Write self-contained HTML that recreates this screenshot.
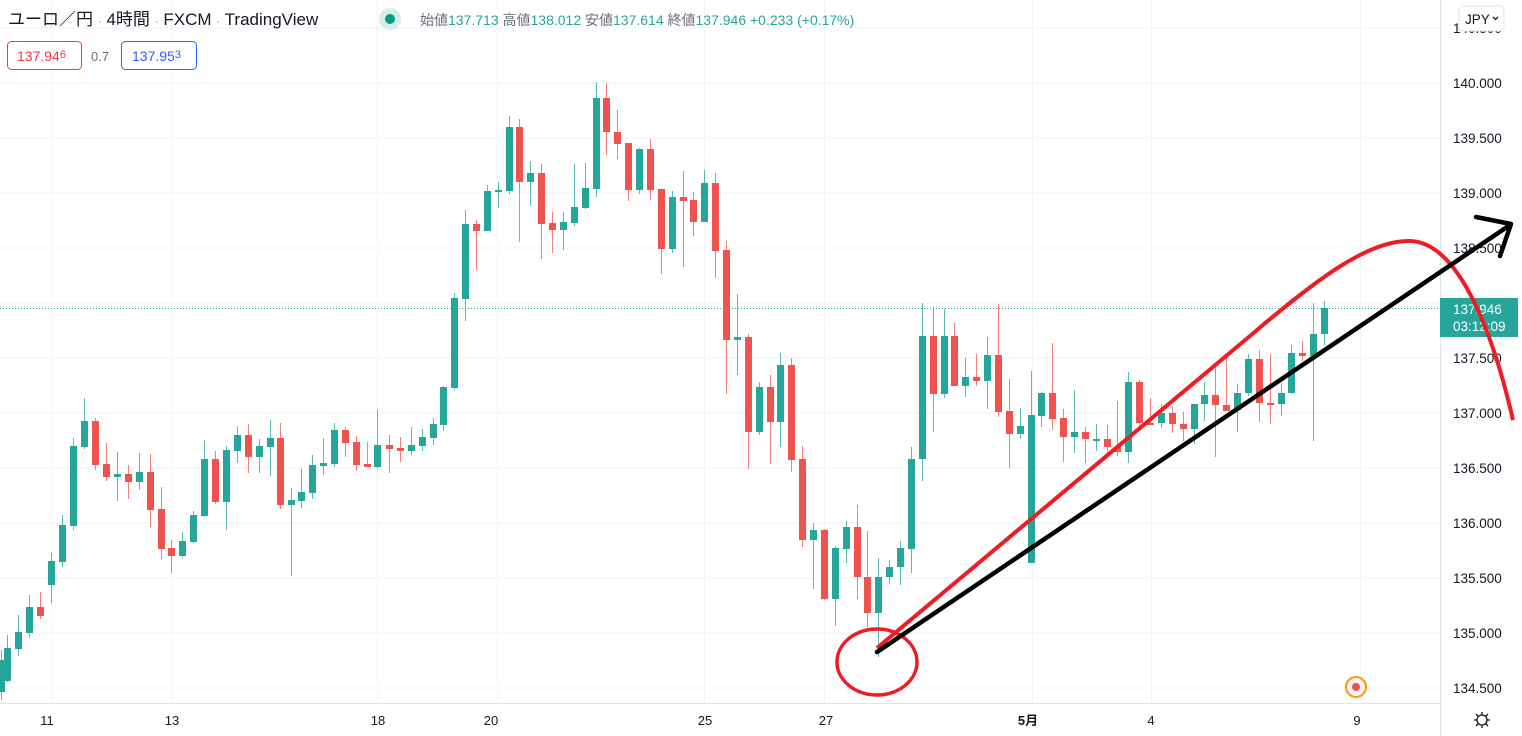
<!DOCTYPE html>
<html><head><meta charset="utf-8">
<style>
html,body{margin:0;padding:0;background:#fff;}
body{width:1522px;height:736px;overflow:hidden;position:relative;font-family:"Liberation Sans","Noto Sans CJK JP",sans-serif;}
svg{position:absolute;left:0;top:0;}
</style></head><body>
<svg id="s" width="1522" height="736" xmlns="http://www.w3.org/2000/svg" font-family="Liberation Sans, Noto Sans CJK JP, sans-serif">
<g stroke="#f0f3fa" stroke-width="1">
<line x1="0" y1="28" x2="1440" y2="28"/><line x1="0" y1="83" x2="1440" y2="83"/><line x1="0" y1="138" x2="1440" y2="138"/><line x1="0" y1="193" x2="1440" y2="193"/><line x1="0" y1="248" x2="1440" y2="248"/><line x1="0" y1="303" x2="1440" y2="303"/><line x1="0" y1="358" x2="1440" y2="358"/><line x1="0" y1="413" x2="1440" y2="413"/><line x1="0" y1="468" x2="1440" y2="468"/><line x1="0" y1="523" x2="1440" y2="523"/><line x1="0" y1="578" x2="1440" y2="578"/><line x1="0" y1="633" x2="1440" y2="633"/><line x1="0" y1="688" x2="1440" y2="688"/>
<line x1="51.5" y1="0" x2="51.5" y2="704"/><line x1="171.5" y1="0" x2="171.5" y2="704"/><line x1="377.5" y1="0" x2="377.5" y2="704"/><line x1="497.5" y1="0" x2="497.5" y2="704"/><line x1="704.5" y1="0" x2="704.5" y2="704"/><line x1="824.5" y1="0" x2="824.5" y2="704"/><line x1="1032.5" y1="0" x2="1032.5" y2="704"/><line x1="1151.5" y1="0" x2="1151.5" y2="704"/><line x1="1360.5" y1="0" x2="1360.5" y2="704"/>
</g>
<line x1="0" y1="308.5" x2="1440" y2="308.5" stroke="#26a69a" stroke-width="1" stroke-dasharray="1,2"/>
<g id="c"></g>
<!-- axes -->
<line x1="1440.5" y1="0" x2="1440.5" y2="736" stroke="#e0e3eb"/>
<line x1="0" y1="703.5" x2="1440" y2="703.5" stroke="#e0e3eb"/>
<g font-size="13.5" fill="#131722">
<text x="1453" y="33">140.500</text>
<text x="1453" y="88">140.000</text><text x="1453" y="143">139.500</text><text x="1453" y="198">139.000</text><text x="1453" y="253">138.500</text><text x="1453" y="363">137.500</text><text x="1453" y="418">137.000</text><text x="1453" y="473">136.500</text><text x="1453" y="528">136.000</text><text x="1453" y="583">135.500</text><text x="1453" y="638">135.000</text><text x="1453" y="693">134.500</text>
</g>
<rect x="1459" y="6" width="45" height="25" rx="4" fill="#fff" stroke="#e0e3eb"/>
<text x="1465" y="24" font-size="13.5" fill="#131722">JPY</text>
<path d="M1493 17 l2.5 2.5 l2.5 -2.5" stroke="#131722" stroke-width="1.3" fill="none"/>
<rect x="1440" y="298" width="78" height="39" fill="#26a69a"/>
<text x="1453" y="314" font-size="13.5" fill="#fff">137.946</text>
<text x="1453" y="331" font-size="13.5" fill="#fff">03:12:09</text>
<g font-size="13" fill="#131722" text-anchor="middle">
<text x="47" y="725">11</text><text x="172" y="725">13</text><text x="378" y="725">18</text><text x="491" y="725">20</text><text x="705" y="725">25</text><text x="826" y="725">27</text><text x="1028" y="725" font-weight="bold">5月</text><text x="1151" y="725">4</text><text x="1357" y="725">9</text>
</g>
<g stroke="#131722" stroke-width="1.3" fill="none"><circle cx="1482" cy="720" r="5"/><path d="M1482 712v3M1482 725v3M1474 720h3M1487 720h3M1476 714l2 2M1486 724l2 2M1488 714l-2 2M1478 724l-2 2"/></g>
<circle cx="1356" cy="687" r="10" fill="#f0f3fa" stroke="#ff9800" stroke-width="2"/>
<circle cx="1356" cy="687" r="4" fill="#f05050"/>
<!-- header -->
<text x="8" y="25" font-size="17" fill="#131722">ユーロ／円 <tspan fill="#9598a1" font-size="12">·</tspan> 4時間 <tspan fill="#9598a1" font-size="12">·</tspan> FXCM <tspan fill="#9598a1" font-size="12">·</tspan> TradingView</text>
<circle cx="390" cy="19" r="11" fill="#d5eeea"/><circle cx="390" cy="19" r="5" fill="#089981"/>
<text x="420" y="25" font-size="14" fill="#6a6d78">始値<tspan fill="#26a69a">137.713</tspan> 高値<tspan fill="#26a69a">138.012</tspan> 安値<tspan fill="#26a69a">137.614</tspan> 終値<tspan fill="#26a69a">137.946</tspan> <tspan fill="#26a69a">+0.233 (+0.17%)</tspan></text>
<rect x="7.5" y="41.5" width="74" height="28" rx="4" fill="#fff" stroke="#f23645"/>
<text x="17" y="61" font-size="14" fill="#f23645">137.94<tspan font-size="11" dy="-3">6</tspan></text>
<text x="91" y="61" font-size="13" fill="#6a6d78">0.7</text>
<rect x="121.5" y="41.5" width="75" height="28" rx="4" fill="#fff" stroke="#2962ff"/>
<text x="132" y="61" font-size="14" fill="#2962ff">137.95<tspan font-size="11" dy="-3">3</tspan></text>
<!-- drawings -->
<ellipse cx="877" cy="662" rx="40" ry="33" fill="none" stroke="#ee1c25" stroke-width="3.5"/>
<path d="M877 648 L1250 336 C1320 276 1370 240 1410 241 C1455 242 1490 320 1513 420" fill="none" stroke="#ee1c25" stroke-width="4"/>
<path d="M877 652 L1510 225 M1476 217 L1511 224 L1500 256" fill="none" stroke="#000" stroke-width="4.5" stroke-linecap="round" stroke-linejoin="round"/>
</svg>
<script>
var d=[
[1,660,692,650,700,1],[7,648,681,635,682,1],[18,632,649,615,656,1],[29,607,633,595,638,1],[40,607,616,592,619,0],[51,561,585,553,603,1],[62,525,562,515,567,1],[73,446,526,438,530,1],[84,421,447,398,449,1],[95,421,465,418,470,0],[106,464,477,443,481,0],[117,474,477,452,501,1],[128,474,482,465,499,0],[139,472,482,453,490,1],[150,472,510,454,527,0],[161,509,549,487,559,0],[171,548,556,540,573,0],[182,541,556,532,558,1],[193,515,542,511,543,1],[204,459,516,440,517,1],[215,459,502,451,504,0],[226,450,502,446,530,1],[237,435,451,426,463,1],[248,435,457,424,473,0],[259,446,457,439,473,1],[270,438,447,420,476,1],[280,438,505,423,509,0],[291,500,505,488,576,1],
[301,492,501,469,508,1],[312,465,493,455,499,1],[323,463,466,438,475,1],[334,430,464,423,467,1],[345,430,443,427,457,0],[356,442,465,436,471,0],[367,464,467,442,467,0],[377,445,467,410,468,1],[389,445,449,435,473,0],[400,448,451,437,462,0],[411,445,451,427,455,1],[422,437,446,429,451,1],[433,424,438,418,445,1],[443,387,425,386,431,1],[454,298,388,293,390,1],[465,224,299,210,321,1],[476,224,231,220,270,0],[487,191,231,185,231,1],[498,190,192,182,208,1],[509,127,191,116,194,1],[519,127,182,119,242,0],[530,173,182,161,206,1],[541,173,224,164,259,0],[552,223,230,212,253,0],[563,222,230,212,250,1],
[574,207,223,164,226,1],[585,188,208,163,209,1],[596,98,189,82,197,1],[606,98,132,83,155,0],[617,132,144,110,159,0],[628,143,190,143,201,0],[639,149,190,148,194,1],[650,149,190,139,200,0],[661,189,249,189,274,0],[672,197,249,191,253,1],[683,197,201,171,267,0],[693,200,222,192,236,0],[704,183,222,170,222,1],[715,183,251,173,278,0],[726,250,340,241,394,0],[737,337,340,294,375,1],[748,337,432,334,469,0],[759,387,432,382,435,1],[770,387,422,375,464,0],[780,365,422,353,447,1],[791,365,460,358,472,0],[802,459,540,446,547,0],[813,530,540,523,589,1],[824,530,599,529,600,0],[835,548,599,546,626,1],[846,527,549,521,563,1],[857,527,577,505,599,0],
[867,577,613,531,627,0],[878,577,613,558,657,1],[889,567,577,560,584,1],[900,548,567,541,585,1],[911,459,549,447,573,1],[922,336,459,303,481,1],[933,336,394,307,432,0],[944,336,394,309,398,1],[954,336,386,323,386,0],[965,377,386,358,397,1],[976,377,381,354,386,0],[987,355,381,337,409,1],[998,355,412,304,417,0],[1009,411,434,379,468,0],[1020,426,434,408,439,1],[1031,415,563,371,563,1],[1041,393,416,392,427,1],[1052,393,419,343,430,0],[1063,418,437,409,462,0],[1074,432,437,390,453,1],[1085,432,439,427,463,0],
[1096,439,440,424,451,1],[1107,439,447,425,453,0],[1117,447,452,401,456,0],[1128,382,452,372,463,1],[1139,382,423,380,427,0],[1150,423,424,398,423,0],[1161,413,423,404,428,1],[1172,413,424,406,433,0],[1183,424,429,412,441,0],[1194,404,429,404,444,1],[1204,395,404,382,421,1],[1215,395,405,366,457,0],[1226,405,411,354,411,0],[1237,393,410,384,432,1],[1248,359,393,354,396,1],[1259,359,403,350,422,0],[1270,403,404,354,424,0],[1281,393,404,383,416,1],[1291,353,393,345,394,1],[1302,353,356,341,361,0],[1313,334,356,303,441,1],[1324,308,334,301,345,1]
];
var g=document.getElementById('c'),h='';
d.forEach(function(a){var col=a[5]?'#26a69a':'#ef5350';var x=a[0];var t=Math.min(a[1],a[2]),b=Math.max(a[1],a[2]);if(b-t<2)b=t+2;
h+='<rect x="'+x+'" y="'+a[3]+'" width="1" height="'+(a[4]-a[3])+'" fill="'+col+'" opacity="0.75"/>';
h+='<rect x="'+(x-3)+'" y="'+t+'" width="7" height="'+(b-t)+'" fill="'+col+'"/>';});
g.innerHTML=h;
</script>
</body></html>
